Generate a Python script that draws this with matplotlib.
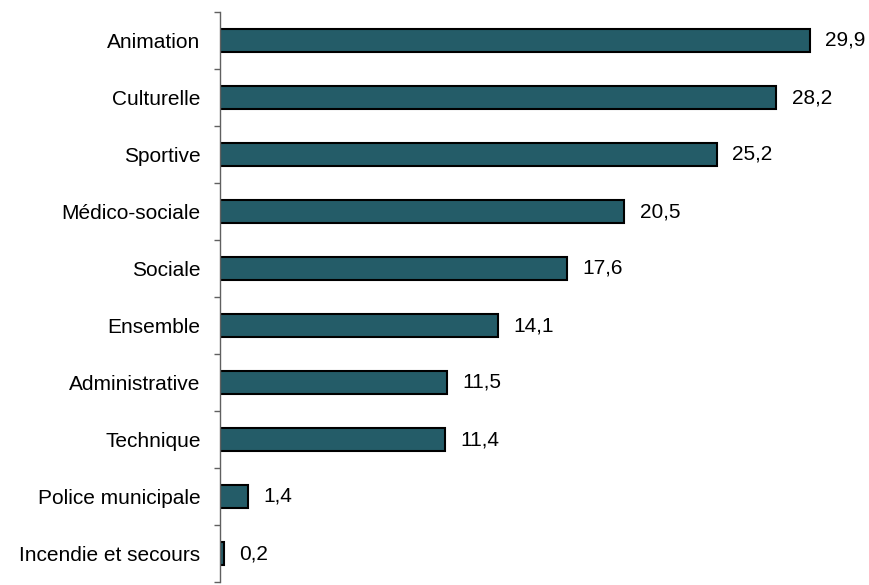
import matplotlib
matplotlib.use("Agg")
import matplotlib.pyplot as plt
import numpy as np

categories = ["Animation", "Culturelle", "Sportive", "Médico-sociale", "Sociale",
              "Ensemble", "Administrative", "Technique", "Police municipale",
              "Incendie et secours"]
values = [29.9, 28.2, 25.2, 20.5, 17.6, 14.1, 11.5, 11.4, 1.4, 0.2]

plt.rcParams['font.family'] = ['Liberation Sans', 'DejaVu Sans']

fig = plt.figure(figsize=(8.7, 5.85), dpi=100)
ax = fig.add_axes([220 / 870, 3 / 585, 630 / 870, 570 / 585])

y = np.arange(len(categories))
ax.barh(y, values, height=0.42, color="#245C68", edgecolor="black", linewidth=1.5)

for yi, v in zip(y, values):
    ax.annotate(f"{v:.1f}".replace(".", ","), (v, yi), xytext=(11, 0),
                textcoords="offset points", va="center", ha="left", fontsize=15)

ax.set_ylim(len(categories) - 0.5, -0.5)
ax.set_xlim(0, 630 / 19.73)
ax.set_yticks(y)
ax.set_yticklabels(categories, fontsize=15)
ax.tick_params(axis="y", which="major", length=0, pad=14)
ax.set_yticks(np.arange(-0.5, len(categories), 1.0), minor=True)
ax.tick_params(axis="y", which="minor", length=4, width=1, color="#606060", direction="out")
ax.set_xticks([])

for side in ("top", "right", "bottom"):
    ax.spines[side].set_visible(False)
ax.spines["left"].set_color("#606060")
ax.spines["left"].set_linewidth(1)

fig.savefig("out.png", dpi=100)
